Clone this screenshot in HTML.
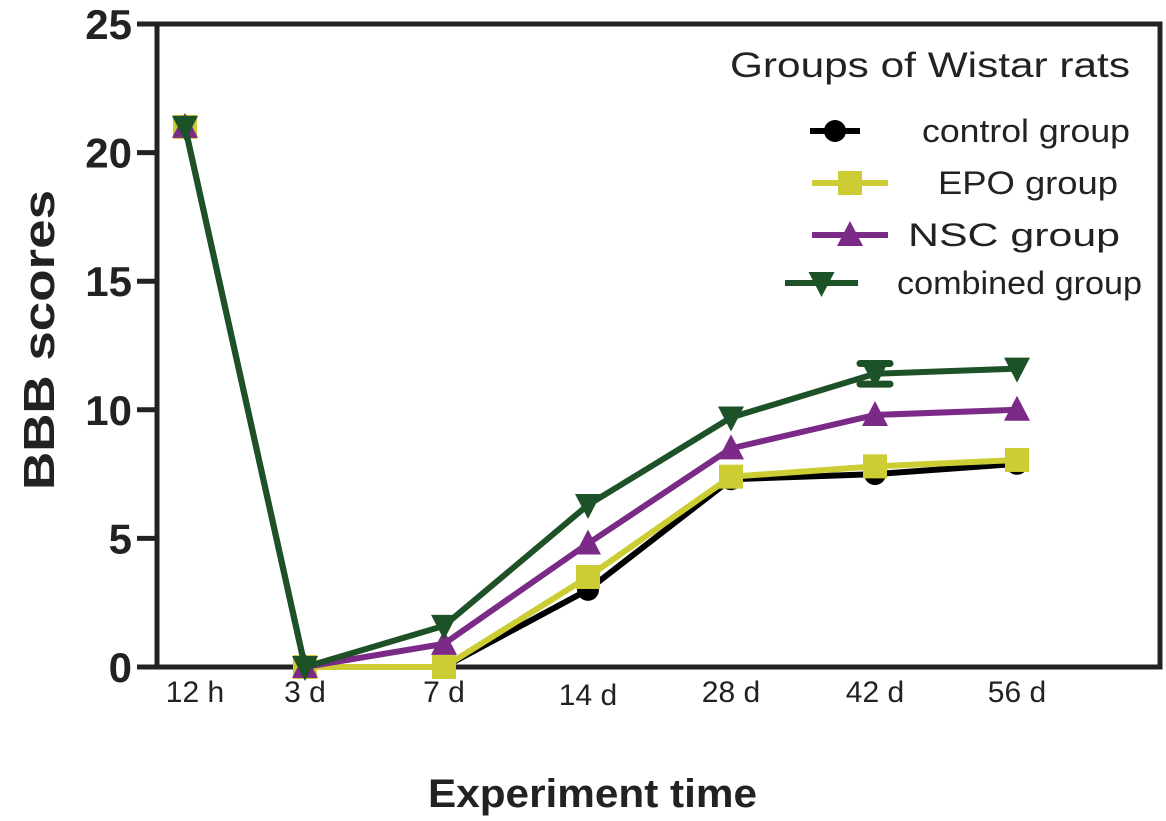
<!DOCTYPE html>
<html><head><meta charset="utf-8"><style>
body{margin:0;background:#fff;}
svg{display:block;font-family:"Liberation Sans",Arial,sans-serif;}
</style></head><body>
<svg id="chart" width="1166" height="821" viewBox="0 0 1166 821" xmlns="http://www.w3.org/2000/svg">
<g id="axes"></g>
<g id="series"></g>
<g id="legend">
<text x="730" y="77" font-size="35" textLength="400" lengthAdjust="spacingAndGlyphs" fill="#222">Groups of Wistar rats</text>
</g>
<text x="428" y="807" font-size="40" font-weight="bold" textLength="329" lengthAdjust="spacingAndGlyphs" fill="#222">Experiment time</text>
<text transform="translate(54,490) rotate(-90)" font-size="44" font-weight="bold" textLength="300" lengthAdjust="spacingAndGlyphs" fill="#222">BBB scores</text>
</svg>
<script>
const categories=["12 h","3 d","7 d","14 d","28 d","42 d","56 d"];
const catX=[195,305,444,588,731,875,1017];
const yTicks=[0,5,10,15,20,25];
const controlVals=[21,0,0,3,7.3,7.5,7.9];
const epoVals=[21,0,0,3.5,7.4,7.8,8.05];
const nscVals=[21,0,0.9,4.8,8.5,9.8,10];
const combinedVals=[21,0,1.6,6.3,9.7,11.4,11.6];
const combinedErr=[0,0,0,0,0,0.4,0];
const names=["control group","EPO group","NSC group","combined group"];

const NS="http://www.w3.org/2000/svg";
function y(v){return 667-v*(643/25);}
function x(i){return catX[i];}
function mk(tag,attrs,parent){const e=document.createElementNS(NS,tag);for(const k in attrs)e.setAttribute(k,attrs[k]);parent.appendChild(e);return e;}
const axes=document.getElementById('axes');
let e;
e=mk('rect',{x:157,y:24,width:1003,height:643,fill:'none',stroke:'#222','stroke-width':5},axes);


yTicks.forEach(t=>{
 e=mk('line',{x1:137,x2:157,y1:y(t),y2:y(t),stroke:'#222','stroke-width':5},axes);
 
 
 e=mk('text',{x:132,y:y(t)+15,'font-size':42,'font-weight':'bold','text-anchor':'end',fill:'#222'},axes);
 e.textContent=t;
 
 
});
const tickY=[702,702,702,705,702,702,702];
categories.forEach((c,i)=>{
 e=mk('text',{x:x(i),y:tickY[i],'font-size':30,'text-anchor':'middle',fill:'#222'},axes);
 e.textContent=c;
 
 
});
const ser=document.getElementById('series');
const colors=["#000000","#cccc33","#7b2a87","#1d5228"];
const data=[controlVals,epoVals,nscVals,combinedVals];
function marker(k,cx,cy,g){
 const c=colors[k];let m;
 if(k==0)m=mk('circle',{cx:cx,cy:cy,r:11,fill:c},g);
 else if(k==1)m=mk('rect',{x:cx-12,y:cy-12,width:24,height:24,fill:c},g);
 else if(k==2)m=mk('polygon',{points:`${cx},${cy-14} ${cx-13},${cy+11} ${cx+13},${cy+11}`,fill:c},g);
 else m=mk('polygon',{points:`${cx-13},${cy-11} ${cx+13},${cy-11} ${cx},${cy+14}`,fill:c},g);
 return m;
}
const lineStarts=[185,185,185,185];
data.forEach((vals,k)=>{
 const g=mk('g',{},ser);
 
 
 const px=i=>i==0?185:x(i);
 e=mk('polyline',{points:vals.map((v,i)=>px(i)+','+y(v)).join(' '),fill:'none',stroke:colors[k],'stroke-width':6},g);
 
 
 if(k==3){vals.forEach((v,i)=>{if(combinedErr[i]>0){
  e=mk('path',{d:`M${x(i)},${y(v+combinedErr[i])}V${y(v-combinedErr[i])}M${x(i)-15},${y(v+combinedErr[i])}H${x(i)+15}M${x(i)-15},${y(v-combinedErr[i])}H${x(i)+15}`,stroke:colors[k],'stroke-width':7,'stroke-linecap':'round',fill:'none'},g);
  
  }});}
 vals.forEach((v,i)=>{
  e=marker(k,px(i),y(v),g);
  
  
 });
});
const leg=document.getElementById('legend');
const legY=[131,183,235,283];
const legTx=[922,938,908,897];
const legW=[208,180,212,245];
names.forEach((n,k)=>{
 const g=mk('g',{},leg);
 
 
 const x1=k==3?785:(k==0?810:812),x2=k==3?858:(k==0?860:888);
 mk('line',{x1:x1,x2:x2,y1:legY[k],y2:legY[k],stroke:colors[k],'stroke-width':6},g);
 marker(k,(x1+x2)/2,legY[k],g);
 e=mk('text',{x:legTx[k],y:legY[k]+11,'font-size':32,textLength:legW[k],lengthAdjust:'spacingAndGlyphs',fill:'#222'},g);
 e.textContent=n;
 
 
});
</script>
</body></html>
